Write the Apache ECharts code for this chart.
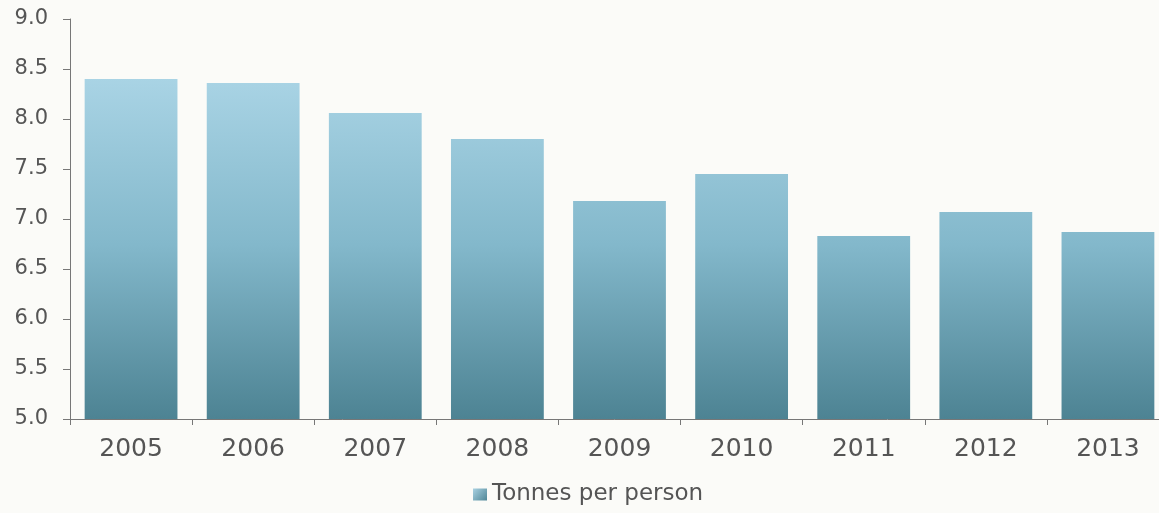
<!DOCTYPE html>
<html>
<head>
<meta charset="utf-8">
<script src="https://cdn.jsdelivr.net/npm/echarts@6/dist/echarts.min.js"></script>
<style>
html,body{margin:0;padding:0;background:#fbfbf8;}
#c{width:1159px;height:513px;}
</style>
</head>
<body>
<div id="c"></div>
<script>
const years = ['2005','2006','2007','2008','2009','2010','2011','2012','2013'];
const tonnesPerPerson = [8.40, 8.36, 8.06, 7.80, 7.18, 7.45, 6.83, 7.07, 6.87];
const seriesName = 'Tonnes per person';

const FONT = 'DejaVu Sans, Liberation Sans, Arial, sans-serif';
const chart = echarts.init(document.getElementById('c'));
// gradient spans the whole plot height (global coords), as in the reference
const barGrad = new echarts.graphic.LinearGradient(0, 70, 0, 419, [
  {offset: 0, color: '#abd5e6'},
  {offset: 0.5, color: '#83b8cb'},
  {offset: 1, color: '#4d8393'}
], true);
const iconGrad = new echarts.graphic.LinearGradient(0, 0, 1, 1, [
  {offset: 0, color: '#a9d1e2'},
  {offset: 1, color: '#4f8696'}
]);
chart.setOption({
  backgroundColor: '#fbfbf8',
  animation: false,
  textStyle: {fontFamily: FONT},
  grid: {left: 70, top: 19, width: 1099, height: 400, containLabel: false, outerBoundsMode: 'none'},
  legend: {
    data: [seriesName],
    left: 468, top: 478,
    itemWidth: 14, itemHeight: 12, itemGap: 4,
    icon: 'rect',
    itemStyle: {color: iconGrad},
    textStyle: {fontSize: 23, color: '#555', fontFamily: FONT}
  },
  xAxis: {
    type: 'category',
    data: years,
    axisLine: {lineStyle: {color: '#777', width: 1}},
    axisTick: {show: true, length: 6, alignWithLabel: false, lineStyle: {color: '#777'}},
    axisLabel: {fontSize: 25, color: '#555', margin: 18}
  },
  yAxis: {
    type: 'value',
    min: 5.0, max: 9.0, interval: 0.5,
    axisLine: {show: true, lineStyle: {color: '#777', width: 1}},
    axisTick: {show: true, length: 7, lineStyle: {color: '#777'}},
    splitLine: {show: false},
    axisLabel: {fontSize: 21, color: '#555', margin: 22, formatter: v => v.toFixed(1)}
  },
  series: [{
    name: seriesName,
    type: 'bar',
    data: tonnesPerPerson,
    barWidth: '76%',
    itemStyle: {color: barGrad}
  }]
});
</script>
</body>
</html>
